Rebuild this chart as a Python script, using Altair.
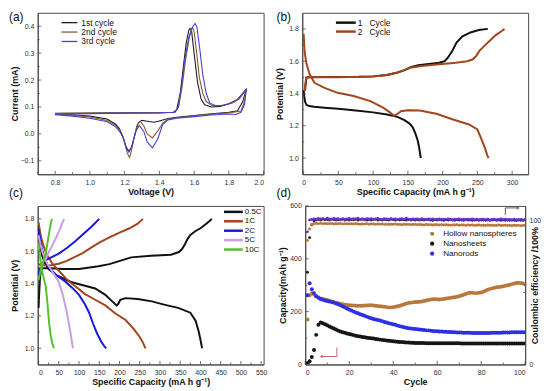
import altair as alt
import pandas as pd

FONT = "Liberation Sans"

# ---------------- (a) cyclic voltammetry ----------------
a_series = ["1st cycle", "2nd cycle", "3rd cycle"]
a_colors = ["#1e1e1e", "#8a5a35", "#4b3fd2"]
a1_v = [0.80, 1.00, 1.20, 1.40, 1.48, 1.50, 1.52, 1.54, 1.555, 1.57, 1.577, 1.585, 1.60, 1.62, 1.64, 1.66, 1.70, 1.75, 1.80, 1.85, 1.90,
        1.88, 1.85, 1.80, 1.70, 1.60, 1.50, 1.45, 1.40, 1.37, 1.33, 1.30, 1.28, 1.26, 1.24, 1.225, 1.21, 1.19, 1.17, 1.15, 1.10, 1.00, 0.90, 0.80]
a1_i = [0.076, 0.077, 0.078, 0.079, 0.080, 0.090, 0.150, 0.260, 0.340, 0.385, 0.392, 0.385, 0.300, 0.190, 0.130, 0.108, 0.100, 0.102, 0.112, 0.128, 0.165,
        0.120, 0.086, 0.080, 0.075, 0.068, 0.062, 0.057, 0.048, 0.043, 0.047, 0.050, 0.042, 0.000, -0.050, -0.065, -0.050, -0.010, 0.020, 0.035, 0.055, 0.066, 0.071, 0.074]
a2_v = [0.80, 1.00, 1.20, 1.40, 1.49, 1.51, 1.53, 1.55, 1.57, 1.585, 1.592, 1.60, 1.615, 1.63, 1.65, 1.67, 1.70, 1.75, 1.80, 1.85, 1.90,
        1.89, 1.87, 1.80, 1.70, 1.60, 1.50, 1.45, 1.42, 1.39, 1.36, 1.33, 1.31, 1.29, 1.27, 1.25, 1.235, 1.228, 1.215, 1.195, 1.17, 1.15, 1.10, 1.00, 0.90, 0.80]
a2_i = [0.075, 0.076, 0.078, 0.079, 0.080, 0.100, 0.170, 0.270, 0.350, 0.390, 0.393, 0.380, 0.300, 0.210, 0.150, 0.120, 0.106, 0.104, 0.112, 0.128, 0.165,
        0.120, 0.085, 0.078, 0.073, 0.067, 0.060, 0.055, 0.040, 0.010, -0.015, 0.000, 0.030, 0.047, 0.030, -0.030, -0.075, -0.088, -0.070, -0.020, 0.015, 0.030, 0.050, 0.063, 0.069, 0.073]
a3_v = [0.80, 1.00, 1.20, 1.40, 1.49, 1.51, 1.53, 1.55, 1.57, 1.59, 1.605, 1.615, 1.63, 1.65, 1.67, 1.69, 1.72, 1.77, 1.82, 1.86, 1.90,
        1.89, 1.87, 1.84, 1.80, 1.70, 1.60, 1.50, 1.45, 1.42, 1.39, 1.36, 1.33, 1.31, 1.285, 1.265, 1.245, 1.225, 1.21, 1.19, 1.17, 1.15, 1.10, 1.00, 0.90, 0.80]
a3_i = [0.074, 0.075, 0.077, 0.078, 0.080, 0.100, 0.190, 0.290, 0.360, 0.395, 0.410, 0.400, 0.330, 0.220, 0.150, 0.115, 0.105, 0.106, 0.115, 0.130, 0.165,
        0.110, 0.080, 0.072, 0.074, 0.070, 0.064, 0.058, 0.052, 0.035, -0.020, -0.052, -0.030, 0.010, 0.030, 0.010, -0.040, -0.068, -0.055, -0.010, 0.010, 0.025, 0.045, 0.058, 0.066, 0.071]
a_xticks = [0.8, 1.0, 1.2, 1.4, 1.6, 1.8, 2.0]
a_xminor = [0.7, 0.9, 1.1, 1.3, 1.5, 1.7, 1.9]
a_yticks = [-0.1, 0.0, 0.1, 0.2, 0.3, 0.4]
a_yminor = [-0.05, 0.05, 0.15, 0.25, 0.35]

# ---------------- (b) charge / discharge ----------------
b_series = ["1\u00a0\u00a0\u00a0Cycle", "2\u00a0\u00a0\u00a0Cycle"]
b_colors = ["#111111", "#a2461d"]
b1d_x = [0, 1, 2, 4, 8, 15, 30, 50, 75, 100, 120, 135, 145, 152, 157, 161, 164, 166, 167.5, 168.5]
b1d_y = [1.42, 1.38, 1.35, 1.33, 1.322, 1.318, 1.312, 1.305, 1.295, 1.283, 1.27, 1.255, 1.235, 1.215, 1.19, 1.15, 1.11, 1.07, 1.03, 1.0]
b1c_x = [2, 3, 4, 6, 20, 50, 80, 100, 120, 135, 145, 155, 165, 180, 195, 203, 208, 214, 220, 228, 240, 252, 265]
b1c_y = [1.42, 1.46, 1.495, 1.5, 1.502, 1.502, 1.503, 1.506, 1.515, 1.53, 1.545, 1.565, 1.575, 1.582, 1.59, 1.60, 1.625, 1.665, 1.715, 1.752, 1.778, 1.793, 1.80]
b2d_x = [0, 1.4, 3.8, 8.5, 15.6, 30, 49, 72, 96, 115, 125, 130, 134, 140, 150, 167, 191, 215, 238, 250, 257, 261, 264, 266]
b2d_y = [1.77, 1.66, 1.59, 1.52, 1.466, 1.435, 1.404, 1.384, 1.353, 1.311, 1.28, 1.262, 1.27, 1.29, 1.296, 1.295, 1.274, 1.239, 1.208, 1.177, 1.105, 1.06, 1.02, 1.0]
b2c_x = [1.4, 2.5, 3.8, 10, 49, 100, 120, 134, 145, 153, 170, 191, 219, 235, 243, 248, 252.6, 260, 267, 276, 286, 289]
b2c_y = [1.414, 1.46, 1.50, 1.502, 1.501, 1.505, 1.515, 1.528, 1.545, 1.559, 1.57, 1.579, 1.59, 1.60, 1.61, 1.63, 1.662, 1.695, 1.724, 1.76, 1.79, 1.80]
b_xticks = [0, 50, 100, 150, 200, 250, 300]
b_xminor = [25, 75, 125, 175, 225, 275]
bc_yticks = [1.0, 1.2, 1.4, 1.6, 1.8]
bc_yminor = [1.1, 1.3, 1.5, 1.7]

# ---------------- (c) rate capability ----------------
c_series = ["0.5C", "1C", "2C", "5C", "10C"]
c_colors = ["#111111", "#a3451c", "#1818e0", "#c99de8", "#55c22c"]
c05d_x = [0, 3, 8, 15, 25, 45, 80, 110, 140, 165, 182, 193, 197, 202, 215, 245, 280, 310, 345, 375, 388, 396, 401, 404]
c05d_y = [1.76, 1.66, 1.58, 1.53, 1.49, 1.45, 1.41, 1.39, 1.37, 1.33, 1.29, 1.265, 1.275, 1.30, 1.31, 1.305, 1.29, 1.27, 1.25, 1.22, 1.17, 1.10, 1.04, 1.0]
c05c_x = [0, 2, 4, 8, 30, 60, 100, 148, 175, 197, 229, 278, 327, 347, 355, 362, 368, 375, 388, 400, 412, 424, 428]
c05c_y = [1.25, 1.36, 1.45, 1.495, 1.495, 1.49, 1.49, 1.507, 1.52, 1.537, 1.562, 1.572, 1.578, 1.595, 1.615, 1.645, 1.675, 1.70, 1.725, 1.742, 1.765, 1.79, 1.80]
c1d_x = [0, 5, 10, 20, 35, 50, 70, 90, 115, 140, 165, 190, 215, 235, 250, 258, 264]
c1d_y = [1.78, 1.70, 1.65, 1.58, 1.52, 1.48, 1.425, 1.385, 1.335, 1.30, 1.265, 1.215, 1.175, 1.12, 1.07, 1.035, 1.0]
c1c_x = [0, 8, 18, 30, 50, 70, 90, 110, 130, 150, 175, 200, 225, 245, 258]
c1c_y = [1.52, 1.515, 1.512, 1.513, 1.523, 1.54, 1.565, 1.59, 1.622, 1.653, 1.685, 1.715, 1.742, 1.77, 1.80]
c2d_x = [0, 4, 8, 15, 25, 45, 65, 85, 100, 115, 125, 135, 145, 155, 162, 167]
c2d_y = [1.74, 1.68, 1.62, 1.55, 1.50, 1.45, 1.415, 1.37, 1.33, 1.27, 1.22, 1.15, 1.09, 1.04, 1.015, 1.0]
c2c_x = [0, 3, 7, 15, 30, 50, 70, 90, 110, 130, 150]
c2c_y = [1.45, 1.50, 1.525, 1.54, 1.56, 1.585, 1.62, 1.66, 1.705, 1.75, 1.80]
c5d_x = [0, 5, 10, 20, 35, 50, 60, 70, 78, 85]
c5d_y = [1.70, 1.64, 1.59, 1.53, 1.47, 1.41, 1.33, 1.22, 1.11, 1.0]
c5c_x = [0, 5, 10, 20, 35, 50, 63]
c5c_y = [1.50, 1.51, 1.53, 1.57, 1.64, 1.72, 1.80]
c10d_x = [0, 3, 7, 12, 18, 22, 26, 30, 34, 38]
c10d_y = [1.65, 1.58, 1.50, 1.44, 1.38, 1.28, 1.16, 1.08, 1.03, 1.0]
c10c_x = [0, 5, 10, 18, 24, 30, 33]
c10c_y = [1.42, 1.48, 1.52, 1.59, 1.68, 1.77, 1.80]
c_xticks = [0, 50, 100, 150, 200, 250, 300, 350, 400, 450, 500, 550]
c_xminor = [25, 75, 125, 175, 225, 275, 325, 375, 425, 475, 525]

# ---------------- (d) cycling ----------------
d_series = ["Hollow nanospheres", "Nanosheets", "Nanorods"]
d_colors = ["#b7783c", "#161616", "#2f2fe2"]
ce_colors = ["#b7783c", "#222222", "#6a2fd6"]
cycles = list(range(1, 101))
cap_hollow = [170, 262, 270, 265, 258, 254, 250, 248, 246, 244,
              241, 238, 236, 234, 232, 230, 228, 226, 225, 224,
              223, 223, 222, 222, 222, 222, 223, 223, 224, 224,
              223, 222, 221, 220, 219, 218, 217, 216, 216, 217,
              218, 220, 222, 225, 228, 231, 233, 234, 235, 236,
              236, 237, 238, 240, 242, 244, 246, 247, 247, 247,
              246, 247, 248, 250, 251, 252, 253, 254, 256, 258,
              261, 264, 267, 270, 271, 271, 270, 270, 271, 272,
              275, 279, 283, 286, 288, 290, 292, 293, 294, 296,
              298, 300, 302, 304, 306, 308, 309, 308, 306, 303]
cap_sheets = [5, 12, 28, 55, 112, 150, 159, 156, 152, 148,
              144, 140, 136, 132, 128, 125, 122, 120, 117, 115,
              113, 111, 109, 107, 106, 104, 103, 101, 100, 99,
              98, 96, 95, 94, 93, 92, 91, 90, 89, 88,
              87, 86, 85, 85, 84, 83, 83, 82, 82, 81,
              81, 81, 81, 81, 80, 80, 80, 80, 80, 80,
              80, 80, 80, 80, 80, 80, 80, 80, 80, 80,
              79, 79, 79, 79, 79, 79, 79, 79, 79, 79,
              79, 79, 79, 79, 79, 79, 79, 79, 79, 79,
              79, 79, 79, 79, 79, 79, 79, 79, 79, 79]
cap_rods = [262, 307, 285, 270, 258, 252, 248, 245, 242, 240,
            238, 236, 234, 231, 228, 224, 220, 216, 212, 208,
            204, 200, 197, 194, 190, 187, 184, 181, 178, 175,
            172, 170, 168, 166, 164, 161, 159, 156, 154, 152,
            150, 147, 145, 143, 141, 139, 137, 136, 135, 134,
            133, 132, 131, 130, 129, 129, 128, 127, 126, 126,
            125, 125, 124, 124, 123, 123, 122, 122, 121, 121,
            121, 120, 120, 120, 120, 119, 119, 119, 119, 119,
            119, 119, 119, 119, 120, 120, 120, 120, 120, 121,
            121, 121, 121, 122, 122, 122, 122, 122, 122, 122]
ce_hollow = [86, 94, 97.2, 97.6, 97.8, 97.7, 97.9, 97.6, 97.8, 97.7,
             97.6, 97.8, 97.5, 97.7, 97.6, 97.8, 97.5, 97.6, 97.7, 97.5,
             97.6, 97.4, 97.6, 97.5, 97.3, 97.5, 97.4, 97.6, 97.3, 97.4,
             97.5, 97.2, 97.4, 97.3, 97.5, 97.2, 97.3, 97.1, 97.3, 97.2,
             97.4, 97.1, 97.2, 97.0, 97.3, 97.1, 97.2, 97.0, 97.1, 97.2,
             96.9, 97.1, 97.0, 96.8, 97.1, 96.9, 97.0, 96.8, 96.9, 97.0,
             96.8, 96.9, 96.7, 96.9, 96.8, 96.6, 96.8, 96.7, 96.9, 96.6,
             96.7, 96.8, 96.5, 96.7, 96.6, 96.8, 96.5, 96.6, 96.7, 96.5,
             96.6, 96.4, 96.7, 96.5, 96.6, 96.4, 96.5, 96.7, 96.4, 96.5,
             96.6, 96.4, 96.5, 96.3, 96.6, 96.4, 96.5, 96.3, 96.5, 96.4]
ce_sheets = [64, 88, 97.0, 99.6, 100.2, 100.5, 100.3, 100.7, 100.4, 100.6,
             100.3, 100.8, 100.5, 100.2, 100.6, 100.4, 100.7, 100.3, 100.5, 100.2,
             100.6, 100.4, 100.7, 100.3, 100.5, 100.8, 100.4, 100.2, 100.6, 100.3,
             100.5, 100.7, 100.3, 100.5, 100.2, 100.6, 100.4, 100.3, 100.7, 100.4,
             100.2, 100.5, 100.3, 100.6, 100.4, 100.2, 100.5, 100.3, 100.6, 100.2,
             100.4, 100.3, 100.5, 100.2, 100.4, 100.6, 100.3, 100.1, 100.4, 100.2,
             100.5, 100.3, 100.1, 100.4, 100.2, 100.5, 100.3, 100.1, 100.4, 100.2,
             100.3, 100.1, 100.4, 100.2, 100.3, 100.0, 100.2, 100.4, 100.1, 100.3,
             100.2, 100.0, 100.3, 100.1, 100.2, 100.4, 100.1, 100.3, 100.0, 100.2,
             100.1, 100.3, 100.0, 100.2, 100.1, 99.9, 100.2, 100.0, 100.1, 100.2]
ce_rods = [92, 100.2, 100.6, 101.0, 100.7, 101.3, 100.9, 101.2, 100.8, 101.4,
           101.0, 100.7, 101.3, 100.9, 101.1, 100.6, 101.2, 100.8, 101.0, 101.3,
           100.7, 101.1, 100.9, 101.4, 100.8, 101.0, 100.6, 101.2, 100.9, 101.1,
           100.7, 101.0, 101.3, 100.8, 100.6, 101.1, 100.9, 100.7, 101.2, 100.8,
           101.0, 100.6, 100.9, 101.1, 100.7, 101.5, 100.8, 100.6, 101.0, 100.7,
           100.9, 100.5, 101.1, 100.8, 100.6, 101.0, 100.7, 100.9, 100.5, 100.8,
           101.0, 100.6, 100.8, 100.5, 100.9, 100.7, 100.4, 100.8, 100.6, 100.9,
           100.5, 100.7, 100.4, 100.8, 100.6, 100.9, 100.5, 100.7, 100.4, 100.6,
           100.8, 100.5, 100.7, 100.3, 100.6, 100.8, 100.4, 100.6, 100.9, 100.5,
           100.7, 100.4, 100.6, 100.3, 100.7, 100.5, 100.4, 100.6, 100.3, 100.5]
d_xticks = [0, 20, 40, 60, 80, 100]
d_xminor = [10, 30, 50, 70, 90]
d_yticks = [0, 200, 400, 600]
d_yminor = [100, 300, 500]
d_rticks = [0, 100]
d_rminor = [50]

TICK = "#4a4a4a"

# ---------------- helpers ----------------
def curves(parts):
    rows = []
    for series, cid, xs, ys in parts:
        for k, (x, y) in enumerate(zip(xs, ys)):
            rows.append({"x": x, "y": y, "series": series, "curve": cid, "k": k})
    return pd.DataFrame(rows)


def label(txt, x, y, baseline):
    return alt.Chart(pd.DataFrame({"t": [txt]})).mark_text(
        font=FONT, fontSize=12, align="left", baseline=baseline, color="#111"
    ).encode(text="t:N", x=alt.value(x), y=alt.value(y))


def line_key(names, colors, x0, x1, xt, y0, dy, width, fs):
    out = []
    for i, (n, c) in enumerate(zip(names, colors)):
        yy = y0 + i * dy
        src = pd.DataFrame({"t": [n]})
        out.append(alt.Chart(src).mark_rule(color=c, strokeWidth=width).encode(
            x=alt.value(x0), x2=alt.value(x1), y=alt.value(yy)))
        out.append(alt.Chart(src).mark_text(font=FONT, fontSize=fs, align="left", baseline="middle", color="#111").encode(
            text="t:N", x=alt.value(xt), y=alt.value(yy)))
    return out


def xticks_in(field, vals, scale, axis, h, length):
    return alt.Chart(pd.DataFrame({field: vals})).mark_rule(color=TICK, strokeWidth=0.8).encode(
        x=alt.X(f"{field}:Q", scale=scale, axis=axis), y=alt.value(h), y2=alt.value(h - length))


def yticks_in(field, vals, scale, axis, x0, length):
    return alt.Chart(pd.DataFrame({field: vals})).mark_rule(color=TICK, strokeWidth=0.8).encode(
        y=alt.Y(f"{field}:Q", scale=scale, axis=axis), x=alt.value(x0), x2=alt.value(x0 + length))


def yax(title, values, fmt, orient="left"):
    kw = dict(title=title, values=values, format=fmt, orient=orient, minExtent=16, maxExtent=16)
    if orient == "right":
        kw["titleAngle"] = 270
        kw["minExtent"] = 12
        kw["maxExtent"] = 12
    return alt.Axis(**kw)


def xax(title, values, fmt):
    return alt.Axis(title=title, values=values, format=fmt)


W1, H1 = 228, 163
W2 = 228
WD = 222
H2 = 160

# ---- panel (a)
sa_x = alt.Scale(domain=[0.7, 2.0], nice=False, zero=False)
sa_y = alt.Scale(domain=[-0.15, 0.45], nice=False, zero=False)
ax_a = xax("Voltage (V)", a_xticks, ".1f")
ay_a = yax("Current (mA)", a_yticks, ".1f")
df_a = curves([(a_series[0], "a1", a1_v, a1_i), (a_series[1], "a2", a2_v, a2_i), (a_series[2], "a3", a3_v, a3_i)])
pa_lines = alt.Chart(df_a).mark_line(strokeWidth=1.1, clip=True).encode(
    x=alt.X("x:Q", scale=sa_x, axis=ax_a),
    y=alt.Y("y:Q", scale=sa_y, axis=ay_a),
    color=alt.Color("series:N", scale=alt.Scale(domain=a_series, range=a_colors), legend=None),
    detail="curve:N", order="k:Q")
panel_a = alt.layer(
    pa_lines,
    xticks_in("x", a_xticks, sa_x, ax_a, H1, 3.5), xticks_in("x", a_xminor, sa_x, ax_a, H1, 2),
    yticks_in("y", a_yticks, sa_y, ay_a, 0, 3.5), yticks_in("y", a_yminor, sa_y, ay_a, 0, 2),
    *line_key(a_series, a_colors, 24, 40, 44, 10, 9.5, 1.3, 8.5),
    label("(a)", -29, -1, "top"), label("(c)", -29, H1 + 26, "bottom")).properties(width=W1, height=H1)

# ---- panel (b)
sb_x = alt.Scale(domain=[-2, 323], nice=False, zero=False)
sb_y = alt.Scale(domain=[0.9, 1.9], nice=False, zero=False)
ax_b = xax("Specific Capacity (mA h g\u207b\u00b9)", b_xticks, "d")
ay_b = yax("Potential (V)", bc_yticks, ".1f")
df_b = curves([(b_series[0], "b1d", b1d_x, b1d_y), (b_series[0], "b1c", b1c_x, b1c_y),
               (b_series[1], "b2d", b2d_x, b2d_y), (b_series[1], "b2c", b2c_x, b2c_y)])
pb_lines = alt.Chart(df_b).mark_line(strokeWidth=2, clip=True).encode(
    x=alt.X("x:Q", scale=sb_x, axis=ax_b),
    y=alt.Y("y:Q", scale=sb_y, axis=ay_b),
    color=alt.Color("series:N", scale=alt.Scale(domain=b_series, range=b_colors), legend=None),
    detail="curve:N", order="k:Q")
panel_b = alt.layer(
    pb_lines,
    xticks_in("x", b_xticks, sb_x, ax_b, H1, 3.5), xticks_in("x", b_xminor, sb_x, ax_b, H1, 2),
    yticks_in("y", bc_yticks, sb_y, ay_b, 0, 3.5), yticks_in("y", bc_yminor, sb_y, ay_b, 0, 2),
    *line_key(b_series, b_colors, 34, 54, 56, 10, 9, 2.5, 8.5),
    label("(b)", -26, -1, "top"), label("(d)", -26, H1 + 26, "bottom")).properties(width=W2, height=H1)

# ---- panel (c)
sc_x = alt.Scale(domain=[-2, 556], nice=False, zero=False)
sc_y = alt.Scale(domain=[0.9, 1.88], nice=False, zero=False)
ax_c = xax("Specific Capacity (mA h g\u207b\u00b9)", c_xticks, "d")
ay_c = yax("Potential (V)", bc_yticks, ".1f")
df_c = curves([(c_series[0], "c05d", c05d_x, c05d_y), (c_series[0], "c05c", c05c_x, c05c_y),
               (c_series[1], "c1d", c1d_x, c1d_y), (c_series[1], "c1c", c1c_x, c1c_y),
               (c_series[2], "c2d", c2d_x, c2d_y), (c_series[2], "c2c", c2c_x, c2c_y),
               (c_series[3], "c5d", c5d_x, c5d_y), (c_series[3], "c5c", c5c_x, c5c_y),
               (c_series[4], "c10d", c10d_x, c10d_y), (c_series[4], "c10c", c10c_x, c10c_y)])
pc_lines = alt.Chart(df_c).mark_line(strokeWidth=2, clip=True).encode(
    x=alt.X("x:Q", scale=sc_x, axis=ax_c),
    y=alt.Y("y:Q", scale=sc_y, axis=ay_c),
    color=alt.Color("series:N", scale=alt.Scale(domain=c_series, range=c_colors), legend=None),
    detail="curve:N", order="k:Q")
panel_c = alt.layer(
    pc_lines,
    xticks_in("x", c_xticks, sc_x, ax_c, H2, 3.5), xticks_in("x", c_xminor, sc_x, ax_c, H2, 2),
    yticks_in("y", bc_yticks, sc_y, ay_c, 0, 3.5), yticks_in("y", bc_yminor, sc_y, ay_c, 0, 2),
    *line_key(c_series, c_colors, 188, 207, 209, 6, 9.5, 2.5, 8)).properties(width=W1, height=H2)

# ---- panel (d)
cap_rows = []
for name, vals in [(d_series[0], cap_hollow), (d_series[1], cap_sheets), (d_series[2], cap_rods)]:
    for c, v in zip(cycles, vals):
        cap_rows.append({"cycle": c, "cap": v, "series": name})
df_cap = pd.DataFrame(cap_rows)
ce_rows = []
for name, vals in [(d_series[1], ce_sheets), (d_series[0], ce_hollow), (d_series[2], ce_rods)]:
    for c, v in zip(cycles, vals):
        ce_rows.append({"cycle": c, "ce": v, "series": name})
df_ce = pd.DataFrame(ce_rows)

sd_x = alt.Scale(domain=[0, 100], nice=False)
sd_y = alt.Scale(domain=[0, 600], nice=False)
sd_r = alt.Scale(domain=[0, 110], nice=False)
ax_d = xax("Cycle", d_xticks, "d")
xd = alt.X("cycle:Q", scale=sd_x, axis=ax_d)
pd_cap = alt.Chart(df_cap).mark_circle(size=16, opacity=1, clip=True).encode(
    x=xd,
    y=alt.Y("cap:Q", scale=sd_y, axis=yax("Capacity(mAh g\u207b\u00b9)", d_yticks, "d")),
    color=alt.Color("series:N", scale=alt.Scale(domain=d_series, range=d_colors),
                    legend=alt.Legend(orient="none", legendX=124, legendY=24, title=None, symbolType="circle",
                                      symbolSize=18, labelFontSize=8.2, rowPadding=1, labelOffset=7,
                                      labelFont=FONT, labelColor="#111")))
pd_ce = alt.Chart(df_ce).mark_circle(size=9, opacity=1, clip=True).encode(
    x=xd,
    y=alt.Y("ce:Q", scale=sd_r, axis=yax("Coulombic efficiency /100%", d_rticks, "d", orient="right")),
    color=alt.Color("series:N", scale=alt.Scale(domain=d_series, range=ce_colors), legend=None))

d_ticks = [
    xticks_in("cycle", d_xticks, sd_x, ax_d, H2, 3.5), xticks_in("cycle", d_xminor, sd_x, ax_d, H2, 2),
    yticks_in("cap", d_yticks, sd_y, None, 0, 3.5), yticks_in("cap", d_yminor, sd_y, None, 0, 2),
    yticks_in("ce", d_rticks, sd_r, None, WD, -3.5), yticks_in("ce", d_rminor, sd_r, None, WD, -2),
]

arrow_l = alt.Chart(pd.DataFrame({"t": [0]})).mark_rule(color="#b04040", strokeWidth=0.8).encode(
    x=alt.value(32), y=alt.value(143), y2=alt.value(152))
arrow_l2 = alt.Chart(pd.DataFrame({"t": [0]})).mark_rule(color="#b04040", strokeWidth=0.8).encode(
    x=alt.value(17), x2=alt.value(32), y=alt.value(152))
head_l = alt.Chart(pd.DataFrame({"t": [0]})).mark_point(shape="triangle-left", filled=True, size=14, color="#b04040").encode(
    x=alt.value(16), y=alt.value(152))
arrow_r = alt.Chart(pd.DataFrame({"t": [0]})).mark_rule(color="#333", strokeWidth=0.8).encode(
    x=alt.value(202), y=alt.value(2), y2=alt.value(9))
arrow_r2 = alt.Chart(pd.DataFrame({"t": [0]})).mark_rule(color="#333", strokeWidth=0.8).encode(
    x=alt.value(202), x2=alt.value(214), y=alt.value(2))
head_r = alt.Chart(pd.DataFrame({"t": [0]})).mark_point(shape="triangle-right", filled=True, size=12, color="#333").encode(
    x=alt.value(215), y=alt.value(2))

panel_d = alt.layer(pd_cap, pd_ce, *d_ticks, arrow_l, arrow_l2, head_l, arrow_r, arrow_r2, head_r).resolve_scale(
    y="independent", color="independent").properties(width=WD, height=H2)

row1 = alt.hconcat(panel_a, panel_b, spacing=10).resolve_scale(color="independent")
row2 = alt.hconcat(panel_c, panel_d, spacing=10).resolve_scale(color="independent")
chart = alt.vconcat(row1, row2, spacing=1, padding=0).resolve_scale(color="independent").configure(
    font=FONT).configure_view(stroke="#4a4a4a", strokeWidth=1).configure_axis(
    grid=False, labelFont=FONT, labelFontSize=7, labelColor="#333", titleFont=FONT, titleFontSize=9,
    titleFontWeight="bold", titleColor="#111", domainColor="#4a4a4a", ticks=False,
    labelPadding=4, titlePadding=2, domain=True
).configure_legend(labelFont=FONT)

chart.save("out.html", embed_options={"renderer": "svg", "actions": False})
